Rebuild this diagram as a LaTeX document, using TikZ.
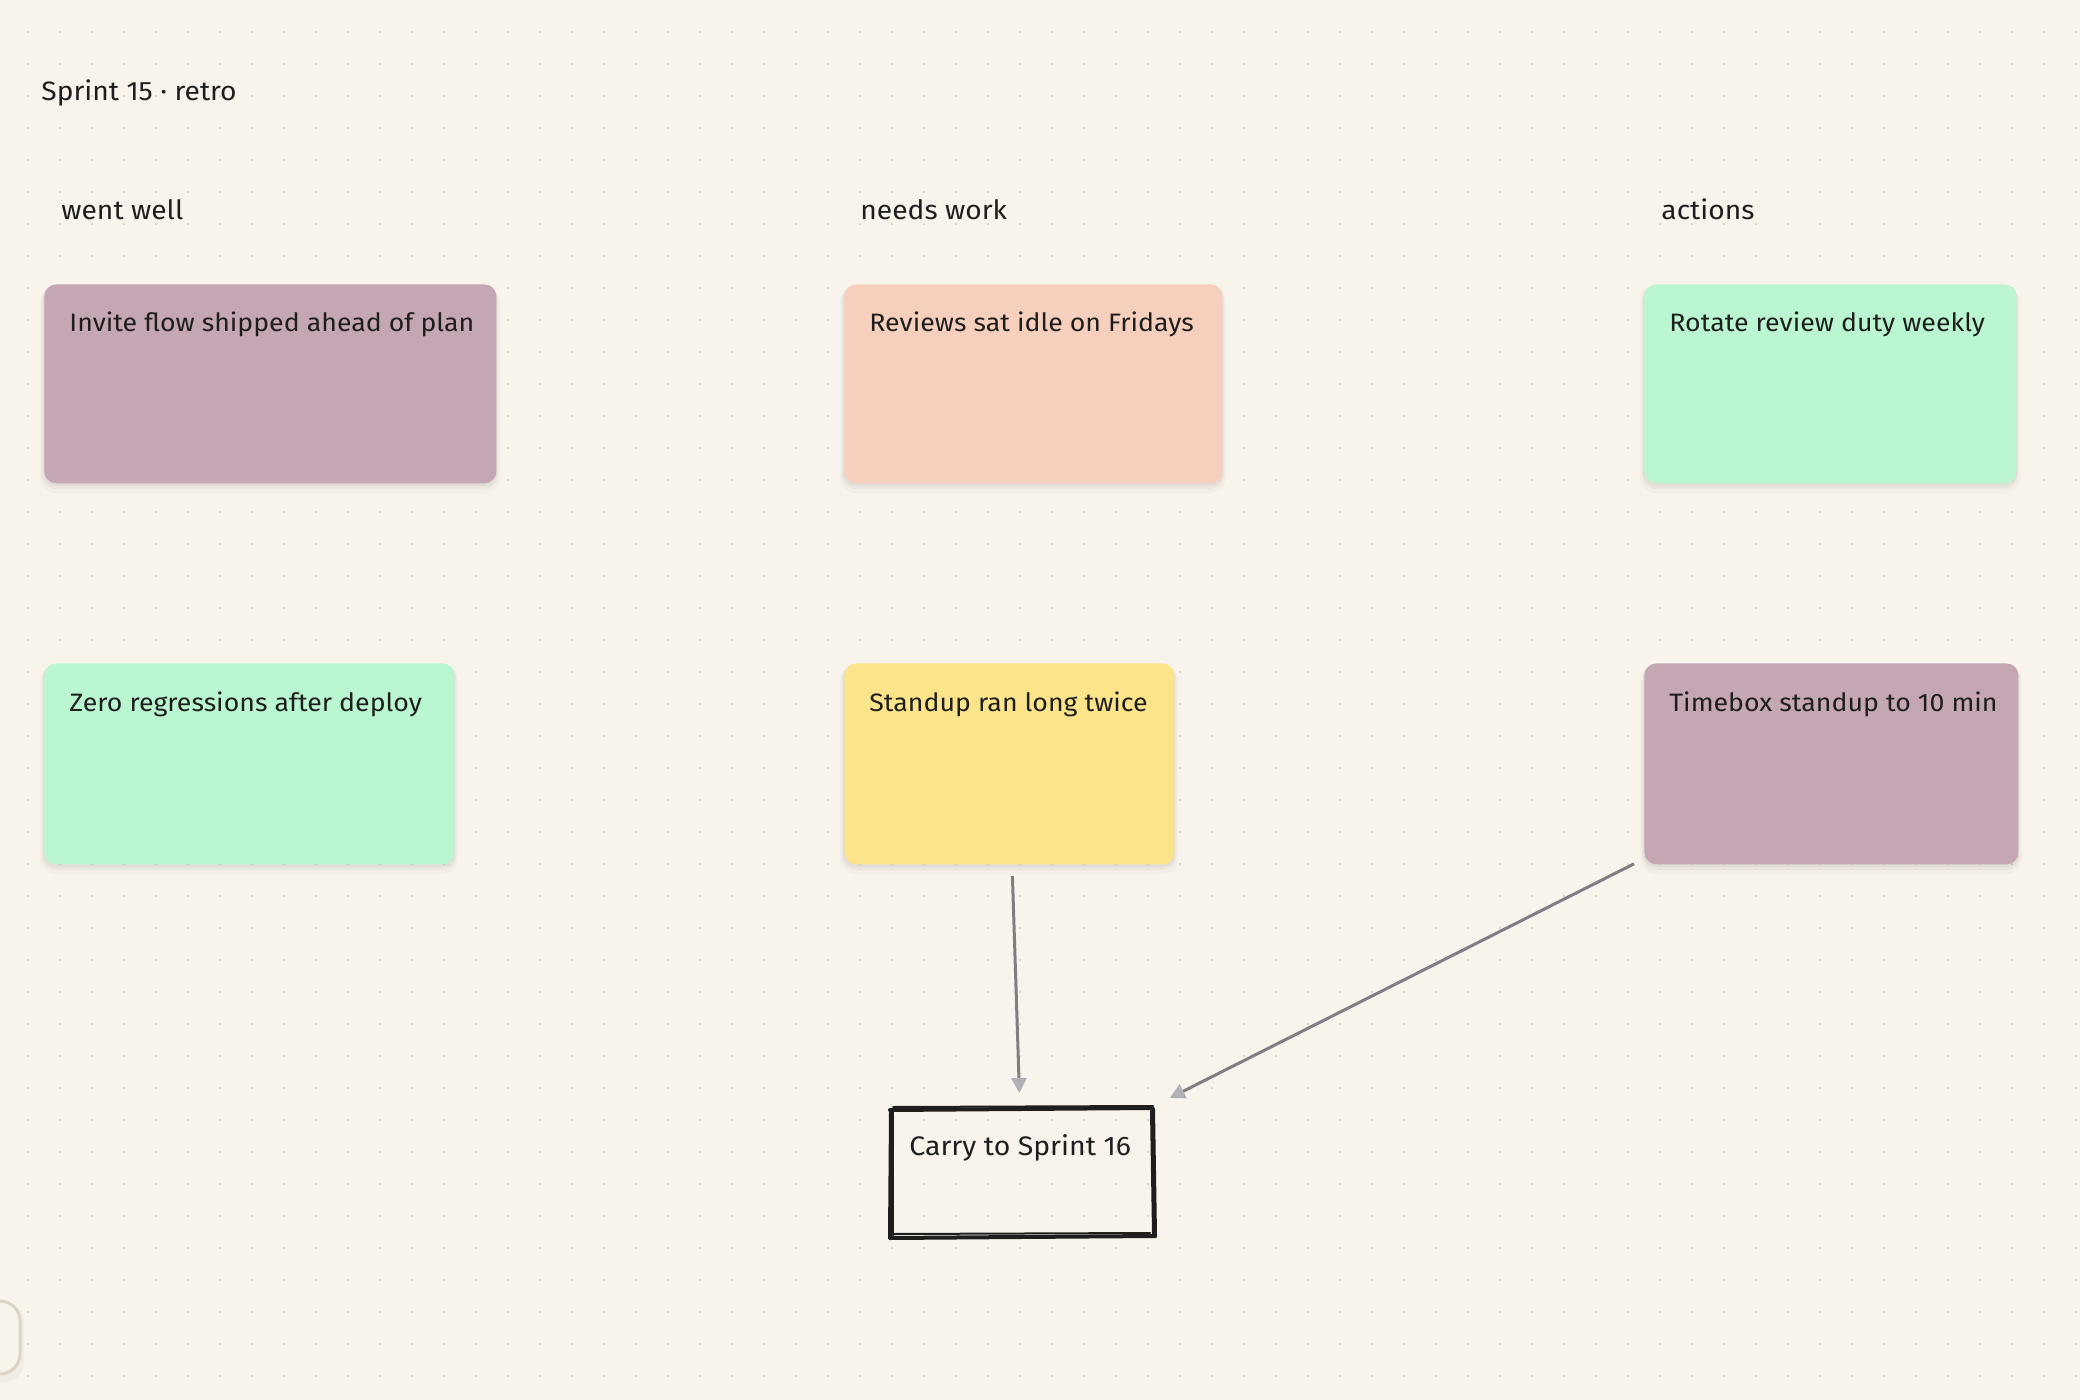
\documentclass[tikz,border=0pt]{standalone}
\usepackage{fontspec}
\setmainfont{Fira Sans}[FakeStretch=1.06]
\usetikzlibrary{arrows.meta,calc}
\definecolor{bg}{HTML}{F8F4EC}
\definecolor{dotc}{HTML}{DDD6C8}
\definecolor{ink}{HTML}{1E1E1E}
\definecolor{cpurple}{HTML}{C5A6B5}
\definecolor{cpeach}{HTML}{F6CFBD}
\definecolor{cgreen}{HTML}{BAF6D0}
\definecolor{cyellow}{HTML}{FCE48A}
\definecolor{linec}{HTML}{857B82}
\definecolor{tipc}{HTML}{B1AFB8}
\definecolor{framec}{HTML}{DCD3C4}
\tikzset{
  cardbox/.style={draw=none, rounded corners=6pt, anchor=north west, inner sep=0pt},
  cardtext/.style={text=ink, font=\fontsize{12.6}{15}\selectfont, inner sep=0pt, anchor=base west},
  headtext/.style={text=ink, font=\fontsize{13.3}{16}\selectfont, inner sep=0pt, anchor=base west},
  link/.style={draw=linec, line width=1.5pt, -{Triangle[length=7.5pt,width=7.5pt,color=tipc]}},
  sketch/.style={draw=ink, line width=2pt, line cap=round, line join=round},
  sketchthin/.style={draw=ink, line width=1pt, line cap=round}
}
\newcommand\mycard[7]{%
  \fill[black,opacity=0.025,rounded corners=8pt] (#2-4,#3+2) rectangle (#2+#4+4,#3+#5+10);
  \fill[black,opacity=0.03,rounded corners=7pt] (#2-2,#3+2) rectangle (#2+#4+2,#3+#5+6);
  \fill[black,opacity=0.03,rounded corners=6pt] (#2-1,#3+1) rectangle (#2+#4+1,#3+#5+3);
  \node[cardbox, fill=#6, minimum width=#4*0.5pt, minimum height=#5*0.5pt] (#1) at (#2,#3) {};
  \node[cardtext] (#1-t) at ($(#1.north west)+(25,48)$) {#7};
}
\begin{document}
\begin{tikzpicture}[x=0.5pt,y=-0.5pt]
\useasboundingbox (0,0) rectangle (2080,1400);
\fill[bg] (0,0) rectangle (2080,1400);
\foreach \i in {0,...,64}{
  \foreach \j in {1,...,43}{
    \fill[dotc] (28+32*\i-1.2, 32*\j-1.2) rectangle ++(2.4,2.4);
  }
}
% title and headers
\node[headtext] (title) at (41,101) {Sprint 15 · retro};
\node[headtext] (h1) at (61,220) {went well};
\node[headtext] (h2) at (860,220) {needs work};
\node[headtext] (h3) at (1661,220) {actions};
% cards
\mycard{c1}{44}{284}{452}{199}{cpurple}{Invite flow shipped ahead of plan}
\mycard{c2}{844}{284}{378}{199}{cpeach}{Reviews sat idle on Fridays}
\mycard{c3}{1644}{284}{372}{199}{cgreen}{Rotate review duty weekly}
\mycard{c4}{44}{663}{410}{201}{cgreen}{Zero regressions after deploy}
\mycard{c5}{844}{663}{330}{201}{cyellow}{Standup ran long twice}
\mycard{c6}{1644}{663}{374}{201}{cpurple}{Timebox standup to 10 min}
% carry box
\node[draw=none, inner sep=0pt, minimum width=266*0.5pt, minimum height=128*0.5pt, anchor=north west] (carry) at (889,1109) {};
\draw[sketch] (890,1110) -- (1020,1109) -- (1152,1108);
\draw[sketchthin] (893,1107) -- (1153,1106);
\draw[sketch] (1153,1109) -- (1155,1236);
\draw[sketchthin] (1151,1111) -- (1153,1234);
\draw[sketch] (1155,1236) -- (1020,1237) -- (890,1238);
\draw[sketchthin] (893,1234) -- (1150,1233);
\draw[sketch] (890,1237) -- (891,1111);
\draw[sketchthin] (893,1235) -- (893,1112);
\node[cardtext, font=\fontsize{13.4}{16}\selectfont] (carry-t) at (909,1155) {Carry to Sprint 16};
% connectors
\coordinate (a1s) at ($(c5.south)+(3,11)$);
\coordinate (a1e) at ($(carry.north)+(-3,-16)$);
\draw[link] (a1s) -- (a1e);
\coordinate (a2s) at ($(c6.south west)+(-10,-1)$);
\coordinate (a2e) at ($(carry.north east)+(14,-11)$);
\draw[link] (a2s) -- (a2e);
% partial frame bottom-left
\fill[black,opacity=0.03,rounded corners=10pt] (-60,1303) rectangle (24,1382);
\draw[draw=framec, line width=1.5pt, fill=bg, rounded corners=10pt] (-60,1301) rectangle (20,1374);
\node[inner sep=0pt] (frame) at (-20,1337) {};
\end{tikzpicture}
\end{document}
